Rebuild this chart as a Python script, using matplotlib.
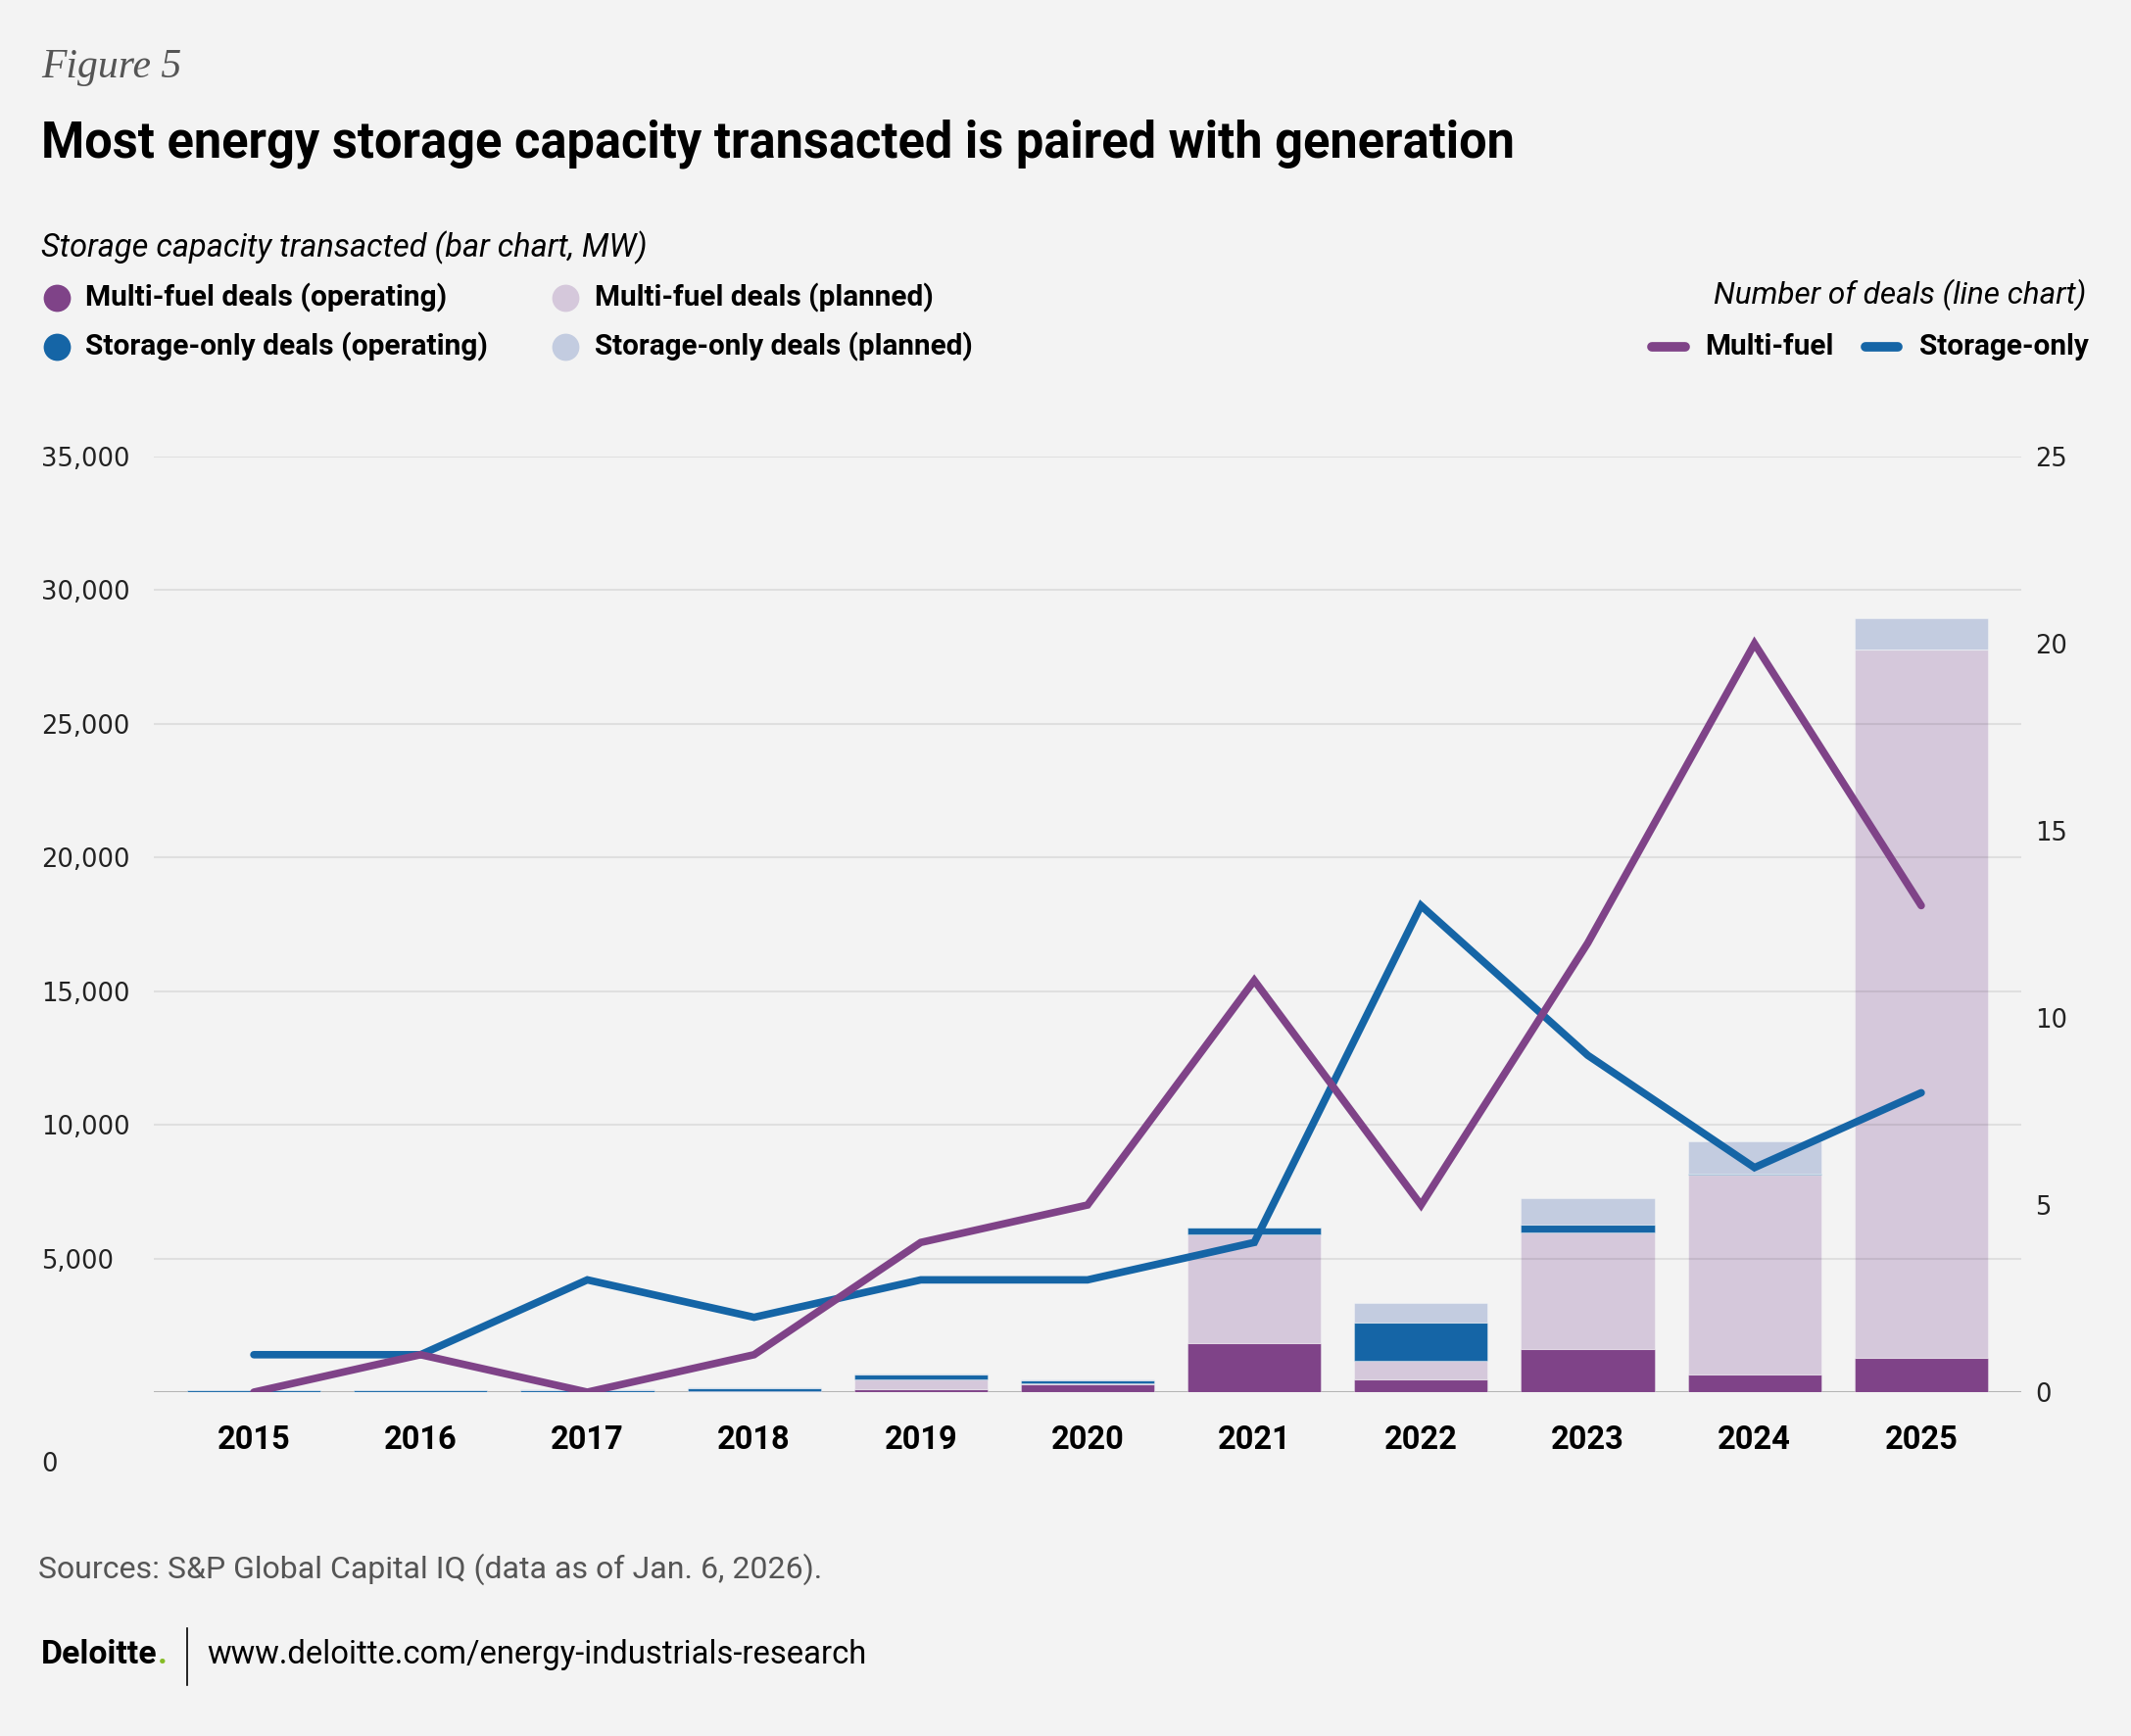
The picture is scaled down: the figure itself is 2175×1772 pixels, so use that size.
import matplotlib
matplotlib.use("Agg")
import matplotlib.pyplot as plt
from matplotlib.lines import Line2D
import numpy as np

W, H = 2175, 1772
DPI = 100

BG = '#F3F3F3'
PURPLE = '#7F4388'
PURPLE_LIGHT = '#D5C8DB'
BLUE = '#1565A6'
BLUE_LIGHT = '#C3CCE0'

SANS = 'Roboto'

# data
years = ['2015', '2016', '2017', '2018', '2019', '2020', '2021', '2022', '2023', '2024', '2025']
mf_operating = [0, 0, 0, 50, 100, 290, 1820, 470, 1630, 660, 1270]
mf_planned = [0, 0, 0, 0, 380, 50, 4080, 710, 4340, 7490, 26510]
so_operating = [60, 60, 60, 110, 180, 100, 260, 1410, 280, 40, 0]
so_planned = [0, 0, 40, 30, 50, 40, 0, 745, 990, 1190, 1175]
mf_deals = [0, 1, 0, 1, 4, 5, 11, 5, 12, 20, 13]
so_deals = [1, 1, 3, 2, 3, 3, 4, 13, 9, 6, 8]

left_ticks = [5000, 10000, 15000, 20000, 25000, 30000, 35000]
right_ticks = [0, 5, 10, 15, 20, 25]


def fx(px):
    return px / W


def fy(py):
    return 1 - py / H


fig = plt.figure(figsize=(W / DPI, H / DPI), dpi=DPI, facecolor=BG)
renderer = fig.canvas.get_renderer()


def fit(t, width_px):
    # scale the font so the text spans the same width as in the reference
    w = t.get_window_extent(renderer).width
    t.set_fontsize(t.get_fontsize() * width_px / w)
    return t


ax = fig.add_axes([fx(157), fy(1421), fx(2063) - fx(157), fy(466) - fy(1421)])
ax.set_facecolor(BG)

x = np.arange(len(years))
stack = [
    (mf_operating, PURPLE),
    (mf_planned, PURPLE_LIGHT),
    (so_operating, BLUE),
    (so_planned, BLUE_LIGHT),
]
bottom = np.zeros(len(years))
for vals, col in stack:
    ax.bar(x, vals, width=0.8, bottom=bottom, color=col,
           edgecolor=(1, 1, 1, 0.35), linewidth=0.8, zorder=2)
    bottom += np.array(vals)

ax.set_xlim(-0.6, 10.6)
ax.set_ylim(0, 35000)
ax.set_yticks(left_ticks)
ax.set_yticklabels([f'{v:,}' for v in left_ticks])
for v in left_ticks:
    ax.axhline(v, color='black', alpha=0.08, lw=1.5, zorder=3)
ax.axhline(0, color='#B4B4B4', lw=2.2, zorder=1.5)

ax.set_xticks(x)
ax.set_xticklabels(years, fontfamily=SANS, fontweight='bold', fontsize=23.5)
ax.tick_params(axis='x', length=0, pad=24)
ax.tick_params(axis='y', length=0, pad=83, labelsize=18.5, labelcolor='#222222')
for lab in ax.get_yticklabels():
    lab.set_horizontalalignment('left')
for s in ax.spines.values():
    s.set_visible(False)

# right axis with the deal counts
ax2 = ax.twinx()
ax2.set_ylim(0, 25)
ax2.set_yticks(right_ticks)
ax2.tick_params(axis='y', length=0, pad=10, labelsize=18.5, labelcolor='#222222')
for s in ax2.spines.values():
    s.set_visible(False)
ax2.plot(x, so_deals, color=BLUE, lw=5.5, solid_capstyle='round',
         solid_joinstyle='miter', zorder=5)
ax2.plot(x, mf_deals, color=PURPLE, lw=5.5, solid_capstyle='round',
         solid_joinstyle='miter', zorder=6)

# the stray zero label under the years
fig.text(fx(42), fy(1495), '0', fontsize=18.5, color='#222222', va='center', ha='left')

# header
fit(fig.text(fx(42), fy(79), 'Figure 5', family='Liberation Serif', style='italic',
             fontsize=30, color='#555555', va='baseline'), 143)
fit(fig.text(fx(42), fy(160), 'Most energy storage capacity transacted is paired with generation',
             family=SANS, fontweight='bold', fontsize=36, color='black', va='baseline'), 1502)
fit(fig.text(fx(42), fy(262), 'Storage capacity transacted (bar chart, MW)',
             family=SANS, style='italic', fontsize=24, color='black', va='baseline'), 621)

# bar legend
bar_legend = [
    (58, 87, 304, PURPLE, 'Multi-fuel deals (operating)', 370),
    (58, 87, 354, BLUE, 'Storage-only deals (operating)', 412),
    (577, 607, 304, PURPLE_LIGHT, 'Multi-fuel deals (planned)', 347),
    (577, 607, 354, BLUE_LIGHT, 'Storage-only deals (planned)', 388),
]
for mx, tx, ty, col, lab, wd in bar_legend:
    fig.add_artist(Line2D([fx(mx)], [fy(ty)], transform=fig.transFigure, marker='o',
                          markersize=20, markeredgewidth=0, color=col, linestyle='none'))
    fit(fig.text(fx(tx), fy(ty), lab, family=SANS, fontweight='bold', fontsize=23,
                 color='black', va='center'), wd)

# line legend
fit(fig.text(fx(2129), fy(301), 'Number of deals (line chart)', family=SANS, style='italic',
             fontsize=24, color='black', va='center', ha='right'), 382)
for x0, x1, col in [(1686, 1720, PURPLE), (1904, 1937, BLUE)]:
    fig.add_artist(Line2D([fx(x0), fx(x1)], [fy(354), fy(354)], transform=fig.transFigure,
                          color=col, lw=7, solid_capstyle='round'))
fit(fig.text(fx(1740), fy(354), 'Multi-fuel', family=SANS, fontweight='bold', fontsize=24,
             color='black', va='center', ha='left'), 132)
fit(fig.text(fx(2132), fy(354), 'Storage-only', family=SANS, fontweight='bold', fontsize=24,
             color='black', va='center', ha='right'), 173)

# footer
fit(fig.text(fx(39), fy(1602), 'Sources: S&P Global Capital IQ (data as of Jan. 6, 2026).',
             family=SANS, fontsize=24, color='#555555', va='center'), 799)
logo = fit(fig.text(fx(42), fy(1689), 'Deloitte', family=SANS, fontweight='bold',
                    fontsize=20, color='black', va='center'), 118)
lx = logo.get_window_extent(renderer).x1 / W
fig.text(lx, fy(1689), '.', family=SANS, fontweight='bold', fontsize=logo.get_fontsize(),
         color='#86BC25', va='center')
fig.add_artist(Line2D([fx(191), fx(191)], [fy(1662), fy(1720)], transform=fig.transFigure,
                      color='black', lw=1.2))
fit(fig.text(fx(211), fy(1689), 'www.deloitte.com/energy-industrials-research',
             family=SANS, fontsize=25, color='black', va='center'), 674)

fig.savefig('out.png', dpi=DPI, facecolor=BG)
